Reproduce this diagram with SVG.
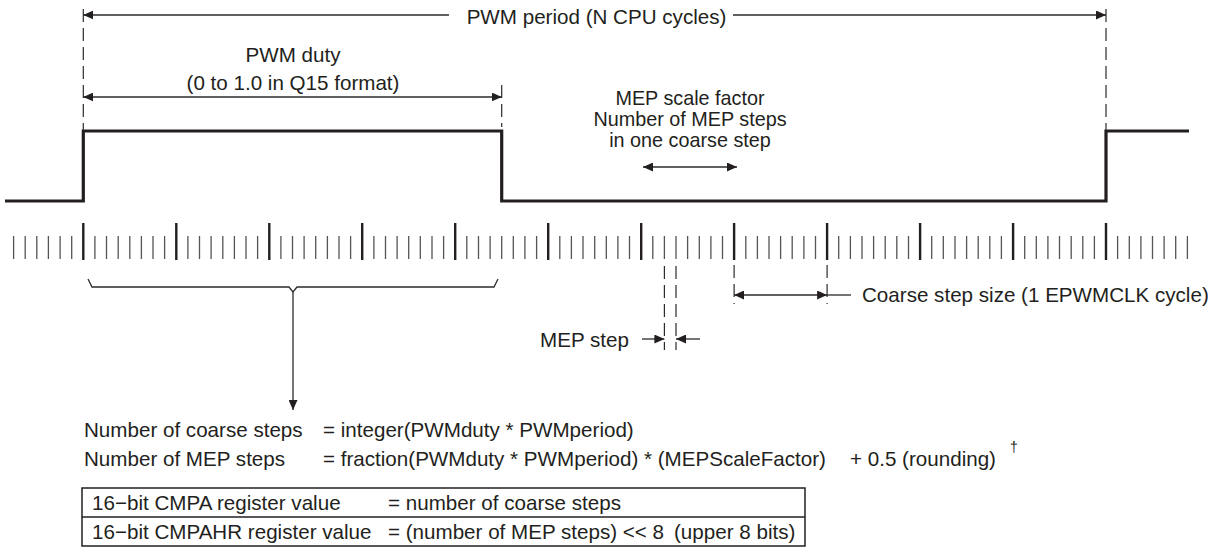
<svg xmlns="http://www.w3.org/2000/svg" width="1229" height="556" viewBox="0 0 1229 556">
<style>
text{font-family:"Liberation Sans",Arial,Helvetica,sans-serif;font-size:20.6px;fill:#231f20}
.mid{text-anchor:middle}
.ln{stroke:#2b2b2b;stroke-width:1.3;fill:none}
.dash{stroke:#2b2b2b;stroke-width:1.2;stroke-dasharray:13 6;fill:none}
.wave{stroke:#231f20;stroke-width:3.2;fill:none;stroke-linejoin:miter}
.tk{stroke:#555;stroke-width:1.3}
.tkl{stroke:#231f20;stroke-width:2.4}
.arr{stroke:#2b2b2b;stroke-width:1.3;fill:none;marker-end:url(#ah)}
.arr2{stroke:#2b2b2b;stroke-width:1.3;fill:none;marker-start:url(#ah);marker-end:url(#ah)}
</style>
<defs>
<marker id="ah" markerUnits="userSpaceOnUse" markerWidth="10" markerHeight="9" refX="10" refY="4.5" orient="auto-start-reverse">
<path d="M0,0 L10,4.5 L0,9 Z" fill="#231f20"/>
</marker>
</defs>
<rect width="1229" height="556" fill="#fff"/>

<g id="waveform">
<polyline class="wave" points="5,201 83.3,201 83.3,131 501.7,131 501.7,201 1106,201 1106,131 1189,131"/>
</g>

<g id="ticks">
<path class="tk" d="M13.6,236V259M25.2,236V259M36.8,236V259M48.4,236V259M60.1,236V259M71.7,236V259M94.9,236V259M106.5,236V259M118.2,236V259M129.8,236V259M141.4,236V259M153,236V259M164.6,236V259M187.9,236V259M199.5,236V259M211.1,236V259M222.8,236V259M234.4,236V259M246,236V259M257.6,236V259M280.9,236V259M292.5,236V259M304.1,236V259M315.7,236V259M327.4,236V259M339,236V259M350.6,236V259M373.9,236V259M385.5,236V259M397.1,236V259M408.7,236V259M420.3,236V259M432,236V259M443.6,236V259M466.8,236V259M478.5,236V259M490.1,236V259M501.7,236V259M513.3,236V259M524.9,236V259M536.6,236V259M559.8,236V259M571.4,236V259M583,236V259M594.7,236V259M606.3,236V259M617.9,236V259M629.5,236V259M652.8,236V259M664.4,236V259M676,236V259M687.6,236V259M699.3,236V259M710.9,236V259M722.5,236V259M745.8,236V259M757.4,236V259M769,236V259M780.6,236V259M792.2,236V259M803.9,236V259M815.5,236V259M838.7,236V259M850.4,236V259M862,236V259M873.6,236V259M885.2,236V259M896.8,236V259M908.5,236V259M931.7,236V259M943.3,236V259M955,236V259M966.6,236V259M978.2,236V259M989.8,236V259M1001.4,236V259M1024.7,236V259M1036.3,236V259M1047.9,236V259M1059.5,236V259M1071.2,236V259M1082.8,236V259M1094.4,236V259M1117.6,236V259M1129.3,236V259M1140.9,236V259M1152.5,236V259M1164.1,236V259M1175.7,236V259M1187.4,236V259"/>
<path class="tkl" d="M83.3,223V260M176.3,223V260M269.3,223V260M362.2,223V260M455.2,223V260M548.2,223V260M641.2,223V260M734.1,223V260M827.1,223V260M920.1,223V260M1013.1,223V260M1106,223V260"/>
</g>

<g id="period">
<text class="mid" x="596.5" y="24">PWM period (N CPU cycles)</text>
</g>

<g id="duty">
<text class="mid" x="293" y="62">PWM duty</text>
<text class="mid" x="293" y="90">(0 to 1.0 in Q15 format)</text>
</g>

<g id="mep-scale">
<text class="mid" x="690" y="105" style="font-size:19.8px">MEP scale factor</text>
<text class="mid" x="690" y="126" style="font-size:19.8px">Number of MEP steps</text>
<text class="mid" x="690" y="147" style="font-size:19.8px">in one coarse step</text>
</g>

<g id="coarse-step">
<text x="862" y="302">Coarse step size (1 EPWMCLK cycle)</text>
</g>

<g id="mep-step">
<text x="540" y="347">MEP step</text>
</g>

<g id="brace">
<polyline class="ln" points="88,279 92,287 289,287 293,292 297,287 494,287 498,279"/>
</g>

<g id="formulas">
<text x="84" y="437">Number of coarse steps</text>
<text x="323" y="437">= integer(PWMduty * PWMperiod)</text>
<text x="84" y="466">Number of MEP steps</text>
<text x="323" y="466">= fraction(PWMduty * PWMperiod) * (MEPScaleFactor)</text>
<text x="850" y="466">+ 0.5 (rounding)</text>
<text x="1010" y="452" style="font-size:14px">†</text>
</g>

<g id="register-box">
<rect x="82" y="488" width="723" height="58" fill="none" stroke="#231f20" stroke-width="1.5"/>
<line x1="82" y1="517" x2="805" y2="517" stroke="#231f20" stroke-width="1.3"/>
<text x="92" y="510">16−bit CMPA register value</text>
<text x="388" y="510">= number of coarse steps</text>
<text x="92" y="539">16−bit CMPAHR register value</text>
<text x="388" y="539">= (number of MEP steps) &lt;&lt; 8</text>
<text x="674" y="539">(upper 8 bits)</text>
</g>

<g id="connectors">
<line class="dash" x1="83.3" y1="9" x2="83.3" y2="130"/>
<line class="dash" x1="1106" y1="9" x2="1106" y2="130"/>
<line class="dash" x1="501.7" y1="85" x2="501.7" y2="127"/>
<line class="arr" x1="449" y1="15" x2="83.3" y2="15"/>
<line class="arr" x1="733" y1="15" x2="1106" y2="15"/>
<line class="arr2" x1="83.3" y1="97" x2="501.7" y2="97"/>
<line class="arr2" x1="643" y1="167" x2="737" y2="167"/>
<line class="dash" x1="734.1" y1="265" x2="734.1" y2="304"/>
<line class="dash" x1="827.1" y1="265" x2="827.1" y2="304"/>
<line class="arr2" x1="734.1" y1="295" x2="827.1" y2="295"/>
<line class="ln" x1="827.1" y1="295" x2="851" y2="295"/>
<line class="dash" x1="664.4" y1="266" x2="664.4" y2="350"/>
<line class="dash" x1="676" y1="266" x2="676" y2="350"/>
<line class="arr" x1="642" y1="339" x2="664.4" y2="339"/>
<line class="arr" x1="700" y1="339" x2="676" y2="339"/>
<line class="arr" x1="293" y1="292" x2="293" y2="410"/>
</g>
</svg>
